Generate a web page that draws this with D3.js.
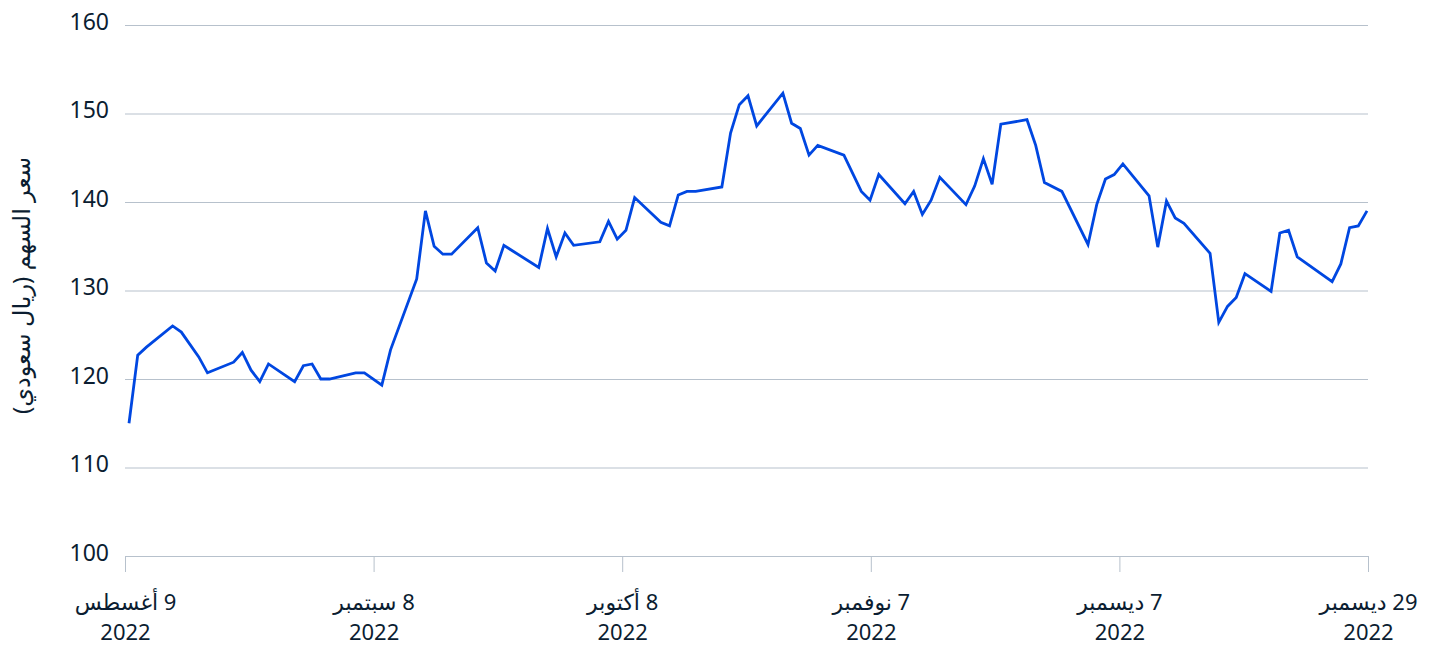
<!DOCTYPE html>
<html>
<head>
<meta charset="utf-8">
<script src="https://cdn.jsdelivr.net/npm/d3@7"></script>
<style>
  body { margin: 0; background: #fff; }
  text { font-family: "Noto Sans", "DejaVu Sans", sans-serif; fill: #0b1d31; }
</style>
</head>
<body>
<div id="chart"></div>
<script>
// closing share price, trading days Aug 9 - Dec 29 2022
var dates = [
  "2022-08-09","2022-08-10","2022-08-11","2022-08-14","2022-08-15","2022-08-17","2022-08-18",
  "2022-08-21","2022-08-22","2022-08-23","2022-08-24","2022-08-25",
  "2022-08-28","2022-08-29","2022-08-30","2022-08-31","2022-09-01",
  "2022-09-04","2022-09-05","2022-09-07","2022-09-08",
  "2022-09-11","2022-09-12","2022-09-13","2022-09-14","2022-09-15",
  "2022-09-18","2022-09-19","2022-09-20","2022-09-21",
  "2022-09-25","2022-09-26","2022-09-27","2022-09-28","2022-09-29",
  "2022-10-02","2022-10-03","2022-10-04","2022-10-05","2022-10-06",
  "2022-10-09","2022-10-10","2022-10-11","2022-10-12","2022-10-13",
  "2022-10-16","2022-10-17","2022-10-18","2022-10-19","2022-10-20",
  "2022-10-23","2022-10-24","2022-10-25","2022-10-26","2022-10-27",
  "2022-10-30","2022-11-01","2022-11-02","2022-11-03",
  "2022-11-06","2022-11-07","2022-11-08","2022-11-09","2022-11-10",
  "2022-11-13","2022-11-14","2022-11-15","2022-11-16","2022-11-17",
  "2022-11-20","2022-11-21","2022-11-22","2022-11-24",
  "2022-11-27","2022-11-28","2022-11-29","2022-11-30","2022-12-01",
  "2022-12-04","2022-12-05","2022-12-06","2022-12-07","2022-12-08",
  "2022-12-11","2022-12-12","2022-12-13","2022-12-14","2022-12-15",
  "2022-12-18","2022-12-19","2022-12-20","2022-12-21",
  "2022-12-25","2022-12-26","2022-12-27","2022-12-28","2022-12-29"
];
var prices = [
  115.0,122.7,123.6,126.0,125.3,122.5,120.7,
  121.9,123.0,121.0,119.7,121.7,
  119.7,121.5,121.7,120.0,120.0,
  120.7,120.7,119.3,123.3,
  131.3,139.0,135.0,134.1,134.1,
  137.1,133.1,132.2,135.1,
  132.6,137.0,133.8,136.5,135.1,
  135.5,137.8,135.8,136.8,140.5,
  137.7,137.3,140.8,141.2,141.2,
  141.7,147.8,151.0,152.0,148.6,
  152.3,148.9,148.3,145.3,146.4,
  145.3,141.2,140.2,143.1,
  139.8,141.2,138.6,140.2,142.8,
  139.7,141.8,144.9,142.0,148.8,
  149.3,146.4,142.2,141.2,
  135.2,139.7,142.6,143.1,144.3,
  140.7,134.9,140.1,138.2,137.6,
  134.2,126.4,128.2,129.2,131.9,
  129.9,136.5,136.8,133.8,
  131.0,133.0,137.1,137.3,139.0
];
var tickDays = ["9 أغسطس", "8 سبتمبر", "8 أكتوبر", "7 نوفمبر", "7 ديسمبر", "29 ديسمبر"];
var tickYears = ["2022", "2022", "2022", "2022", "2022", "2022"];
var yTicks = [100, 110, 120, 130, 140, 150, 160];
var yTitle = "سعر السهم (ريال سعودي)";

var margin = { top: 25, right: 66, bottom: 90, left: 125 },
    width = 1434 - margin.left - margin.right,
    height = 646 - margin.top - margin.bottom;

var parse = d3.timeParse("%Y-%m-%d");
var data = dates.map(function(d, i) { return { date: parse(d), price: prices[i] }; });

var svg = d3.select("#chart")
    .append("svg")
    .attr("width", width + margin.left + margin.right)
    .attr("height", height + margin.top + margin.bottom)
    .append("g")
    .attr("transform", "translate(" + margin.left + "," + margin.top + ")");

var x = d3.scaleTime()
    .domain(d3.extent(data, function(d) { return d.date; }))
    .range([4, width - 1]);

var y = d3.scaleLinear()
    .domain([100, 160])
    .range([height, 0]);

// labelled ticks are evenly spaced along the axis
var xTicks = d3.scalePoint()
    .domain(d3.range(tickDays.length))
    .range([0, width]);

var gy = svg.append("g")
    .call(d3.axisLeft(y).tickValues(yTicks).tickSize(-width).tickPadding(16));
gy.select(".domain").remove();
gy.selectAll(".tick line").attr("stroke", "#b7c1cc").attr("stroke-width", 1);
gy.selectAll(".tick text")
    .attr("dy", "0.18em")
    .style("font-size", "23px");

var gx = svg.append("g")
    .attr("transform", "translate(0," + height + ")")
    .call(d3.axisBottom(xTicks).tickSize(16).tickSizeOuter(0).tickFormat(""));
gx.select(".domain").attr("stroke", "#b7c1cc");
gx.selectAll(".tick line").attr("stroke", "#b7c1cc");
gx.selectAll(".tick text").remove();

var labels = gx.selectAll(".tick").append("g");
labels.append("text")
    .attr("direction", "rtl")
    .attr("text-anchor", "middle")
    .attr("y", 54)
    .style("font-size", "22px")
    .text(function(d) { return tickDays[d]; });
labels.append("text")
    .attr("text-anchor", "middle")
    .attr("y", 84)
    .style("font-size", "22px")
    .text(function(d) { return tickYears[d]; });

svg.append("text")
    .attr("transform", "rotate(-90)")
    .attr("direction", "rtl")
    .attr("text-anchor", "middle")
    .attr("x", -height / 2 + 5)
    .attr("y", -margin.left + 30)
    .style("font-size", "24px")
    .text(yTitle);

svg.append("path")
    .datum(data)
    .attr("fill", "none")
    .attr("stroke", "#0047e1")
    .attr("stroke-width", 2.8)
    .attr("stroke-linejoin", "miter")
    .attr("d", d3.line()
        .x(function(d) { return x(d.date); })
        .y(function(d) { return y(d.price); }));
</script>
</body>
</html>
